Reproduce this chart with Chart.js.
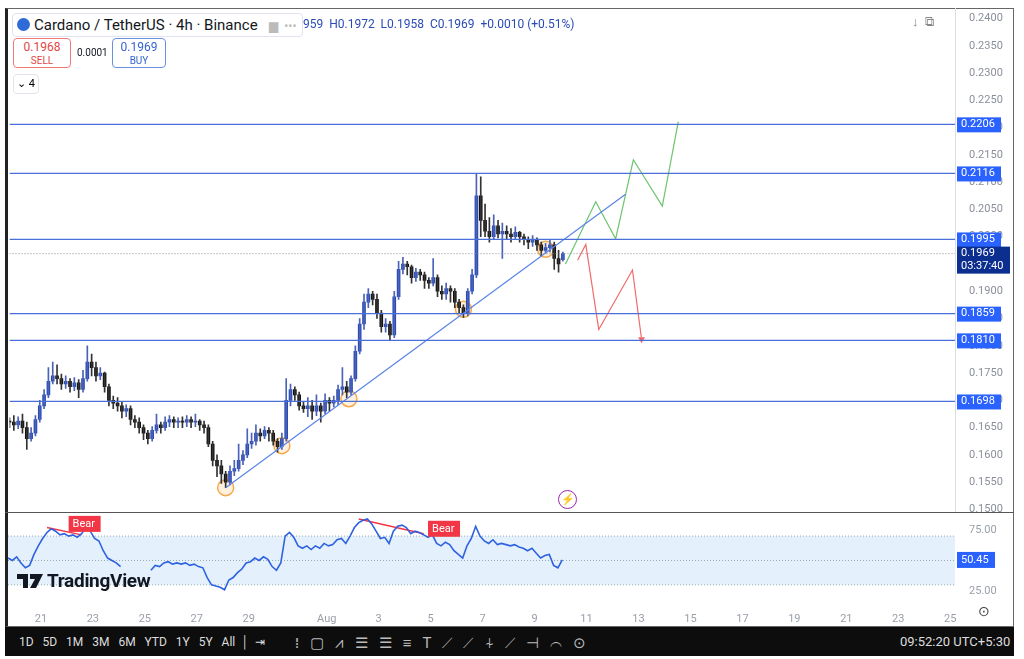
<!DOCTYPE html>
<html><head><meta charset="utf-8">
<script src="https://cdn.jsdelivr.net/npm/chart.js@4"></script>
<style>
body{margin:0;width:1024px;height:659px;background:#fff;font-family:Roboto,"Noto Sans",sans-serif;overflow:hidden;position:relative}
#frame{position:absolute;left:5px;top:8px;width:1009px;height:619px;border:1px solid #666;border-left:3px solid #222;box-sizing:border-box}
canvas{position:absolute;left:0}
#c1{top:0;width:1024px;height:524px}#c2{top:512px;width:1024px;height:118px}
.hdr{position:absolute;font-size:14px;color:#131722;white-space:nowrap}
.box{position:absolute;border-radius:4px;text-align:center;font-size:12px;line-height:14px;background:#fff}
#tb{position:absolute;left:5px;top:627px;width:1009px;height:29px;background:#0d0d0d;color:#ddd;font-size:12px}
#tb span{position:absolute;top:8px;white-space:nowrap}
</style></head><body>
<div id="frame"></div>
<canvas id="c1" width="1024" height="524"></canvas>
<div id="mask" style="position:absolute;left:8px;top:513px;width:1005px;height:14px;background:#fff"></div>
<canvas id="c2" width="1024" height="118"></canvas>
<div class="hdr" style="left:12px;top:13px;border:1px solid #e0e3eb;border-radius:4px;padding:1px 6px 1px 4px;height:20px;line-height:20px;font-size:15px;background:#fff"><span style="display:inline-block;width:13px;height:13px;border-radius:50%;background:#2f6bd8;vertical-align:-1px;margin-right:4px"></span>Cardano / TetherUS · 4h · Binance <span style="color:#bbb;margin-left:8px;font-size:12px">▆ &nbsp;•••</span></div>
<div class="hdr" style="left:303px;top:17px;font-size:12px;color:#2a4bb5">959 &nbsp;H0.1972 &nbsp;L0.1958 &nbsp;C0.1969 &nbsp;+0.0010 (+0.51%)</div>
<div class="box" style="left:13px;top:38px;width:56px;height:28px;border:1px solid #f07a7a;color:#e04848"><div style="margin-top:1px">0.1968</div><div style="font-size:10px">SELL</div></div>
<div class="hdr" style="left:77px;top:47px;font-size:10px">0.0001</div>
<div class="box" style="left:112px;top:38px;width:52px;height:28px;border:1px solid #6b8fe0;color:#3563d0"><div style="margin-top:1px">0.1969</div><div style="font-size:10px">BUY</div></div>
<div class="box" style="left:13px;top:74px;width:24px;height:18px;border:1px solid #e0e3eb;font-size:11px;line-height:18px">⌄ 4</div>
<div class="hdr" style="left:912px;top:14px;color:#888;font-size:13px">↓ &nbsp;⧉</div>
<div style="position:absolute;left:17px;top:569px;font-size:19px;font-weight:bold;color:#131722;letter-spacing:-0.3px;white-space:nowrap"><svg width="26" height="14" viewBox="0 0 26 14" style="vertical-align:-1px"><path d="M0 0h11v14h-5v-9h-6z M13 0h13l-7 14h-6l5-9h-5z" fill="#131722"/></svg> TradingView</div>
<div style="position:absolute;left:558px;top:490px;width:17px;height:17px;border:1.5px solid #9c27b0;border-radius:50%;color:#9c27b0;font-size:11px;text-align:center;line-height:17px">⚡</div>
<div style="position:absolute;left:978px;top:603px;color:#444;font-size:14px">⊙</div>
<div id="tb"><span style="left:14px">1D &nbsp; 5D &nbsp; 1M &nbsp; 3M &nbsp; 6M &nbsp; YTD &nbsp; 1Y &nbsp; 5Y &nbsp; All &nbsp;│ &nbsp;⇥</span>
<span style="left:290px;font-size:15px;top:5px;color:#bbb">⁞ &nbsp; ▢ &nbsp; ⩘ &nbsp; ☰ &nbsp; ☰ &nbsp; ≡ &nbsp; T &nbsp; ⟋ &nbsp; ⟋ &nbsp; ⍭ &nbsp; ⟋ &nbsp; ⊣ &nbsp; ⌒ &nbsp; ⊙</span>
<span style="left:895px;font-size:13px;top:7px">09:52:20 UTC+5:30</span></div>
<script>
const closes=[0.1660,0.1655,0.1662,0.1650,0.1630,0.1640,0.1665,0.1690,0.1710,0.1735,
0.1745,0.1740,0.1730,0.1735,0.1725,0.1732,0.1720,0.1740,0.1770,0.1760,
0.1745,0.1750,0.1725,0.1700,0.1695,0.1690,0.1680,0.1685,0.1665,0.1660,
0.1650,0.1640,0.1630,0.1645,0.1655,0.1650,0.1660,0.1665,0.1660,0.1662,
0.1660,0.1665,0.1660,0.1662,0.1655,0.1650,0.1620,0.1590,0.1580,0.1565,
0.1550,0.1570,0.1575,0.1590,0.1600,0.1620,0.1625,0.1640,0.1635,0.1645,
0.1640,0.1625,0.1615,0.1630,0.1700,0.1720,0.1710,0.1690,0.1685,0.1690,
0.1680,0.1690,0.1680,0.1700,0.1695,0.1700,0.1720,0.1725,0.1715,0.1740,
0.1790,0.1840,0.1880,0.1895,0.1885,0.1860,0.1835,0.1840,0.1820,0.1890,
0.1940,0.1950,0.1945,0.1925,0.1935,0.1930,0.1920,0.1915,0.1925,0.1900,
0.1895,0.1905,0.1900,0.1880,0.1870,0.1860,0.1900,0.1930,0.2075,0.2030,
0.2010,0.2000,0.2020,0.2005,0.2010,0.2005,0.2000,0.2008,0.2000,0.1995,
0.1990,0.1995,0.1985,0.1975,0.1980,0.1985,0.1960,0.1950,0.1969];
const opens=[0.1662,0.1660,0.1655,0.1662,0.1650,0.1630,0.1640,0.1665,0.1690,0.1710,
0.1735,0.1745,0.1740,0.1730,0.1735,0.1725,0.1732,0.1720,0.1740,0.1770,
0.1760,0.1745,0.1750,0.1725,0.1700,0.1695,0.1690,0.1680,0.1685,0.1665,
0.1660,0.1650,0.1640,0.1630,0.1645,0.1655,0.1650,0.1660,0.1665,0.1660,
0.1662,0.1660,0.1665,0.1660,0.1662,0.1655,0.1650,0.1620,0.1590,0.1580,
0.1565,0.1550,0.1570,0.1575,0.1590,0.1600,0.1620,0.1625,0.1640,0.1635,
0.1645,0.1640,0.1625,0.1615,0.1630,0.1700,0.1720,0.1710,0.1690,0.1685,
0.1690,0.1680,0.1690,0.1680,0.1700,0.1695,0.1700,0.1720,0.1725,0.1715,
0.1740,0.1790,0.1840,0.1880,0.1895,0.1885,0.1860,0.1835,0.1840,0.1820,
0.1890,0.1940,0.1950,0.1945,0.1925,0.1935,0.1930,0.1920,0.1915,0.1925,
0.1900,0.1895,0.1905,0.1900,0.1880,0.1870,0.1860,0.1900,0.1930,0.2075,
0.2030,0.2010,0.2000,0.2020,0.2005,0.2010,0.2005,0.2000,0.2008,0.2000,
0.1995,0.1990,0.1995,0.1985,0.1975,0.1980,0.1985,0.1960,0.1958];
const highs=[0.1668,0.1672,0.1670,0.1675,0.1660,0.1650,0.1672,0.1700,0.1720,0.1760,
0.1770,0.1765,0.1748,0.1745,0.1740,0.1742,0.1738,0.1755,0.1800,0.1785,
0.1770,0.1760,0.1752,0.1730,0.1708,0.1705,0.1698,0.1692,0.1690,0.1672,
0.1668,0.1655,0.1645,0.1652,0.1675,0.1660,0.1670,0.1672,0.1670,0.1668,
0.1670,0.1672,0.1670,0.1675,0.1665,0.1662,0.1655,0.1625,0.1600,0.1590,
0.1570,0.1580,0.1590,0.1620,0.1608,0.1648,0.1640,0.1655,0.1648,0.1652,
0.1650,0.1645,0.1630,0.1640,0.1740,0.1730,0.1725,0.1715,0.1698,0.1705,
0.1700,0.1710,0.1695,0.1712,0.1705,0.1708,0.1728,0.1760,0.1735,0.1745,
0.1800,0.1850,0.1895,0.1905,0.1900,0.1895,0.1865,0.1850,0.1845,0.1900,
0.1955,0.1962,0.1955,0.1948,0.1942,0.1940,0.1935,0.1925,0.1960,0.1930,
0.1910,0.1915,0.1910,0.1905,0.1885,0.1875,0.1905,0.1940,0.2116,0.2110,
0.2060,0.2035,0.2040,0.2030,0.2025,0.2020,0.2015,0.2018,0.2010,0.2005,
0.2000,0.2002,0.1998,0.1990,0.1988,0.1995,0.1990,0.1975,0.1972];
const lows=[0.1650,0.1645,0.1648,0.1640,0.1610,0.1625,0.1635,0.1660,0.1685,0.1705,
0.1730,0.1730,0.1720,0.1722,0.1715,0.1718,0.1705,0.1715,0.1735,0.1745,
0.1735,0.1738,0.1715,0.1690,0.1685,0.1680,0.1668,0.1670,0.1655,0.1650,
0.1640,0.1628,0.1620,0.1625,0.1640,0.1640,0.1645,0.1652,0.1650,0.1650,
0.1650,0.1652,0.1650,0.1652,0.1645,0.1640,0.1615,0.1580,0.1560,0.1548,
0.1540,0.1545,0.1562,0.1570,0.1582,0.1595,0.1612,0.1618,0.1625,0.1630,
0.1625,0.1618,0.1605,0.1610,0.1625,0.1690,0.1700,0.1682,0.1678,0.1670,
0.1665,0.1672,0.1660,0.1675,0.1680,0.1688,0.1692,0.1710,0.1705,0.1710,
0.1735,0.1785,0.1830,0.1870,0.1875,0.1850,0.1825,0.1825,0.1810,0.1815,
0.1885,0.1932,0.1930,0.1915,0.1918,0.1920,0.1905,0.1905,0.1910,0.1890,
0.1885,0.1885,0.1880,0.1870,0.1860,0.1852,0.1855,0.1895,0.1925,0.2000,
0.2000,0.1990,0.1995,0.1998,0.1960,0.1995,0.1990,0.1995,0.1990,0.1985,
0.1978,0.1982,0.1975,0.1965,0.1970,0.1972,0.1940,0.1935,0.1955];
const rsi=[52,50,53,48,44,46,55,62,68,73,76,74,71,72,70,71,69,72,77,74,
68,66,58,52,50,48,45,null,null,null,null,null,null,42,46,45,48,49,47,48,
47,48,46,47,45,44,36,30,29,28,26,34,36,40,43,48,49,52,50,53,
51,45,42,48,70,73,69,62,60,62,59,62,60,64,62,63,67,68,64,70,
77,81,83,84,80,74,68,69,64,74,78,79,77,72,74,73,71,69,71,64,
62,65,63,58,55,52,62,68,78,70,66,64,67,63,64,63,62,63,61,60,
58,60,56,52,54,55,46,44,50.45];
const levels=[0.2206,0.2116,0.1995,0.1859,0.1810,0.1698];
const lastPrice=0.1969;
const priceTicks=[0.2400,0.2350,0.2300,0.2250,0.2200,0.2150,0.2100,0.2050,0.2000,0.1950,0.1900,0.1850,0.1800,0.1750,0.1700,0.1650,0.1600,0.1550,0.1500];
const dayLabels=["21","23","25","27","29","Aug","3","5","7","9","11","13","15","17","19","21","23","25"];
const dayIndex=[7.6,19.6,31.6,43.6,55.6,73.6,85.6,97.6,109.6,121.6,133.6,145.6,157.6,169.6,181.6,193.6,205.6,217.6];
const trendX=[50,142.5], trendY=[0.1540,0.2078];
const touchX=[50,63,78.5,105,124], touchY=[0.1540,0.1617,0.1703,0.1867,0.1977];
const greenX=[128.6,135.6,140.2,144.3,151,154.7], greenY=[0.1950,0.2064,0.1996,0.2141,0.2056,0.2211];
const redX=[131.4,133.3,136.3,144.1,146.2], redY=[0.1957,0.1986,0.1830,0.1939,0.1812];
const bearX=[[9,17],[81,96]], bearY=[[77,71],[84,72]];
const bearLabelX=[14,97], bearLabelY=[80,76];

const XMAX=218.7, BLUE='#2a4bb5', DARK='#111';
const pts=(xs,ys)=>xs.map((x,i)=>({x,y:ys[i]}));
const up=i=>closes[i]>=opens[i];
const common={animation:false,responsive:false,maintainAspectRatio:false,devicePixelRatio:1,events:[],
 layout:{padding:{left:8,top:8,right:9,bottom:0}},plugins:{legend:{display:false},tooltip:{enabled:false}}};

const labelPlugin={id:'lbl',afterDraw(c){
 const ctx=c.ctx,y=c.scales.y,a=c.chartArea;ctx.save();
 ctx.font='11px Roboto';ctx.textAlign='left';ctx.textBaseline='middle';
 levels.forEach(v=>{const py=y.getPixelForValue(v);ctx.fillStyle='#2962ff';ctx.fillRect(957,py-7,44,15);ctx.fillStyle='#fff';ctx.fillText(v.toFixed(4),961,py);});
 const py=y.getPixelForValue(lastPrice);ctx.fillStyle='#0c2f8f';ctx.fillRect(957,py-7,53,27);
 ctx.fillStyle='#fff';ctx.fillText(lastPrice.toFixed(4),961,py);ctx.fillText('03:37:40',961,py+13);
 ctx.restore();}};

new Chart(document.getElementById('c1'),{
 data:{datasets:[
  ...levels.map(v=>({type:'line',data:[{x:0,y:v},{x:XMAX,y:v}],borderColor:'#4a6fd8',borderWidth:1.2,pointRadius:0})),
  {type:'line',data:[{x:0,y:lastPrice},{x:XMAX,y:lastPrice}],borderColor:'#8a8f9a',borderWidth:1,borderDash:[1,2],pointRadius:0},
  {type:'line',data:pts(trendX,trendY),borderColor:'#5b84e8',borderWidth:1.2,pointRadius:0},
  {type:'line',data:pts(greenX,greenY),borderColor:'#6cc46c',borderWidth:1.2,pointRadius:0},
  {type:'line',data:pts(redX,redY),borderColor:'#f06a6a',borderWidth:1.2,pointRadius:[0,0,0,0,4],pointStyle:'triangle',rotation:180,pointBackgroundColor:'#f06a6a',pointBorderWidth:0},
  {type:'bar',grouped:false,barThickness:1,data:closes.map((c,i)=>({x:i,y:[lows[i],highs[i]]})),backgroundColor:closes.map((c,i)=>up(i)?'#4a62b8':'#333')},
  {type:'bar',grouped:false,barThickness:3,minBarLength:1,data:closes.map((c,i)=>({x:i,y:[opens[i],c]})),backgroundColor:closes.map((c,i)=>up(i)?BLUE:DARK)},
  {type:'scatter',data:pts(touchX,touchY),pointRadius:8,borderColor:'rgba(245,160,60,0.9)',borderWidth:1.5,backgroundColor:'rgba(255,200,120,0.25)'}
 ]},
 options:{...common,
  scales:{x:{type:'linear',min:0,max:XMAX,display:false,offset:false},
   y:{position:'right',min:0.14908,max:0.24165,grid:{display:false},border:{display:false},
   afterBuildTicks(s){s.ticks=priceTicks.map(v=>({value:v}));},afterFit(s){s.width=60;s.paddingTop=0;s.paddingBottom=0;},
   ticks:{color:'#8a8f9a',font:{size:11,family:'Roboto'},padding:6,callback:v=>v.toFixed(4)}}}},
 plugins:[labelPlugin]});

const rsiPlugin={id:'rsi',beforeDatasetsDraw(c){
 const ctx=c.ctx,y=c.scales.y,a=c.chartArea;ctx.save();
 const t=y.getPixelForValue(70),b=y.getPixelForValue(30);
 ctx.fillStyle='rgba(210,232,252,0.6)';ctx.fillRect(a.left,t,a.right-a.left,b-t);
 ctx.strokeStyle='#9aa';ctx.setLineDash([1,2]);ctx.lineWidth=1;
 [70,50,30].forEach(v=>{const p=y.getPixelForValue(v);ctx.beginPath();ctx.moveTo(a.left,p);ctx.lineTo(a.right,p);ctx.stroke();});
 ctx.restore();},
 afterDraw(c){const ctx=c.ctx,y=c.scales.y,x=c.scales.x,a=c.chartArea;ctx.save();
 ctx.font='11px Roboto';ctx.textBaseline='middle';
 bearLabelX.forEach((bx,i)=>{const px=x.getPixelForValue(bx),py=y.getPixelForValue(bearLabelY[i]);ctx.fillStyle='#f23645';ctx.fillRect(px,py-8,32,16);ctx.fillStyle='#fff';ctx.fillText('Bear',px+4,py);});
 const p=y.getPixelForValue(50.45);ctx.fillStyle='#2962ff';ctx.fillRect(957,p-8,38,16);ctx.fillStyle='#fff';ctx.fillText('50.45',961,p);
 ctx.restore();}};

new Chart(document.getElementById('c2'),{
 data:{datasets:[
  {type:'line',data:rsi.map((v,i)=>({x:i,y:v})),borderColor:'#2f62e0',borderWidth:1.6,pointRadius:0,spanGaps:false},
  ...bearX.map((bx,i)=>({type:'line',data:pts(bx,bearY[i]),borderColor:'#f23645',borderWidth:1.5,pointRadius:0}))
 ]},
 options:{...common,layout:{padding:{left:8,top:0,right:9,bottom:0}},
  scales:{x:{type:'linear',min:0,max:XMAX,offset:false,grid:{display:false},border:{display:false},
    afterBuildTicks(s){s.ticks=dayIndex.map(v=>({value:v}));},
    ticks:{color:'#9aa0aa',font:{size:11,family:'Roboto'},maxRotation:0,autoSkip:false,padding:5,callback:(v,i)=>dayLabels[i]},
    afterFit(s){s.height=30;s.paddingLeft=0;s.paddingRight=0;}},
   y:{position:'right',min:17.6,max:89.75,grid:{display:false},border:{display:false},
    afterBuildTicks(s){s.ticks=[{value:75},{value:25}];},afterFit(s){s.width=60;s.paddingTop=0;s.paddingBottom=0;},
    ticks:{color:'#9aa0aa',font:{size:11,family:'Roboto'},padding:6,callback:v=>v.toFixed(2)}}}},
 plugins:[rsiPlugin]});
</script>
<div style="position:absolute;left:5px;top:512px;width:1009px;height:1px;background:#555"></div>
<div style="position:absolute;left:955px;top:8px;width:1px;height:504px;background:#ddd"></div>
</body></html>
